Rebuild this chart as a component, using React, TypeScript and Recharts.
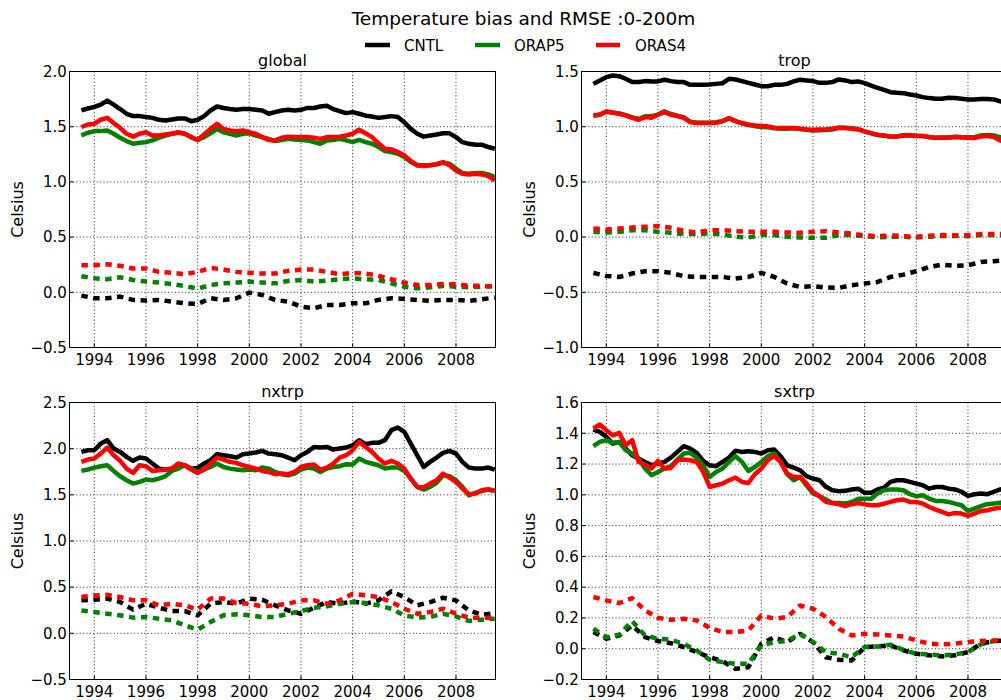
import React from 'react';
import { LineChart, Line, XAxis, YAxis, CartesianGrid } from 'recharts';

// ---- time axes -----------------------------------------------------------
const QUARTERS = [
  1993.5, 1993.75,
  1994, 1994.25, 1994.5, 1994.75, 1995, 1995.25, 1995.5, 1995.75,
  1996, 1996.25, 1996.5, 1996.75, 1997, 1997.25, 1997.5, 1997.75,
  1998, 1998.25, 1998.5, 1998.75, 1999, 1999.25, 1999.5, 1999.75,
  2000, 2000.25, 2000.5, 2000.75, 2001, 2001.25, 2001.5, 2001.75,
  2002, 2002.25, 2002.5, 2002.75, 2003, 2003.25, 2003.5, 2003.75,
  2004, 2004.25, 2004.5, 2004.75, 2005, 2005.25, 2005.5, 2005.75,
  2006, 2006.25, 2006.5, 2006.75, 2007, 2007.25, 2007.5, 2007.75,
  2008, 2008.25, 2008.5, 2008.75, 2009, 2009.25, 2009.5,
];
const HALF_YEARS = [
  1993.5, 1994, 1994.5, 1995, 1995.5, 1996, 1996.5, 1997, 1997.5, 1998, 1998.5,
  1999, 1999.5, 2000, 2000.5, 2001, 2001.5, 2002, 2002.5, 2003, 2003.5,
  2004, 2004.5, 2005, 2005.5, 2006, 2006.5, 2007, 2007.5, 2008, 2008.5, 2009, 2009.5,
];
const YEAR_TICKS = [1994, 1996, 1998, 2000, 2002, 2004, 2006, 2008];
const X_DOMAIN: [number, number] = [1993.04, 2009.53];

// ---- experiments -----------------------------------------------------------
const EXPERIMENTS = ['CNTL', 'ORAP5', 'ORAS4'];
const COLORS = ['#000000', '#008000', '#ff0000'];

// ---- global ---------------------------------------------------------------
const GLOBAL_RMSE_CNTL = [
  1.647, 1.665,
  1.68, 1.70, 1.737, 1.70, 1.66, 1.617, 1.596, 1.596,
  1.587, 1.58, 1.563, 1.557, 1.566, 1.575, 1.575, 1.55,
  1.563, 1.596, 1.647, 1.683, 1.67, 1.66, 1.653, 1.66,
  1.66, 1.653, 1.647, 1.617, 1.632, 1.647, 1.653, 1.647,
  1.653, 1.67, 1.67, 1.683, 1.69, 1.66, 1.64, 1.623,
  1.632, 1.617, 1.60, 1.593, 1.58, 1.587, 1.596, 1.587,
  1.54, 1.48, 1.436, 1.41, 1.42, 1.43, 1.44, 1.44,
  1.406, 1.36, 1.345, 1.337, 1.337, 1.316, 1.30,
];
const GLOBAL_RMSE_ORAP5 = [
  1.421, 1.445,
  1.46, 1.46, 1.466, 1.436, 1.40, 1.37, 1.346, 1.355,
  1.36, 1.376, 1.40, 1.42, 1.436, 1.445, 1.436, 1.406,
  1.38, 1.406, 1.44, 1.48, 1.45, 1.436, 1.42, 1.436,
  1.44, 1.42, 1.406, 1.39, 1.37, 1.38, 1.39, 1.385,
  1.38, 1.376, 1.36, 1.346, 1.376, 1.38, 1.39, 1.376,
  1.36, 1.38, 1.36, 1.346, 1.316, 1.28, 1.27, 1.255,
  1.225, 1.18, 1.15, 1.15, 1.15, 1.16, 1.173, 1.165,
  1.12, 1.08, 1.074, 1.08, 1.08, 1.068, 1.044,
];
const GLOBAL_RMSE_ORAS4 = [
  1.497, 1.52,
  1.527, 1.563, 1.58, 1.533, 1.49, 1.436, 1.41, 1.436,
  1.45, 1.42, 1.42, 1.43, 1.436, 1.45, 1.436, 1.406,
  1.38, 1.43, 1.48, 1.527, 1.48, 1.466, 1.46, 1.466,
  1.45, 1.436, 1.406, 1.38, 1.376, 1.40, 1.41, 1.406,
  1.406, 1.406, 1.40, 1.39, 1.406, 1.406, 1.41, 1.42,
  1.436, 1.473, 1.44, 1.406, 1.35, 1.30, 1.294, 1.27,
  1.24, 1.19, 1.15, 1.144, 1.15, 1.16, 1.18, 1.15,
  1.104, 1.074, 1.068, 1.074, 1.068, 1.053, 1.014,
];
const GLOBAL_BIAS_CNTL = [
  -0.03, -0.054, -0.054, -0.039, -0.069, -0.075, -0.069, -0.084, -0.099, -0.105, -0.054,
  -0.069, -0.054, -0.003, -0.024, -0.069, -0.084, -0.13, -0.145, -0.115, -0.115,
  -0.1, -0.1, -0.069, -0.054, -0.06, -0.069, -0.078, -0.069, -0.069, -0.078, -0.063, -0.048,
];
const GLOBAL_BIAS_ORAP5 = [
  0.146, 0.127, 0.118, 0.136, 0.112, 0.097, 0.088, 0.075, 0.057, 0.033, 0.066,
  0.081, 0.088, 0.097, 0.088, 0.081, 0.103, 0.112, 0.097, 0.106, 0.118,
  0.127, 0.118, 0.112, 0.081, 0.051, 0.036, 0.045, 0.057, 0.051, 0.045, 0.051, 0.057,
];
const GLOBAL_BIAS_ORAS4 = [
  0.245, 0.245, 0.254, 0.24, 0.215, 0.215, 0.185, 0.176, 0.164, 0.185, 0.221,
  0.206, 0.185, 0.176, 0.17, 0.17, 0.194, 0.206, 0.206, 0.185, 0.164,
  0.176, 0.17, 0.149, 0.118, 0.088, 0.066, 0.066, 0.075, 0.072, 0.06, 0.06, 0.051,
];

// ---- trop ------------------------------------------------------------------
const TROP_RMSE_CNTL = [
  1.388, 1.419,
  1.449, 1.464, 1.458, 1.434, 1.404, 1.404, 1.413, 1.41,
  1.41, 1.425, 1.413, 1.404, 1.404, 1.379, 1.379, 1.379,
  1.382, 1.388, 1.394, 1.434, 1.428, 1.413, 1.397, 1.382,
  1.367, 1.367, 1.379, 1.379, 1.388, 1.41, 1.425, 1.419,
  1.413, 1.397, 1.397, 1.404, 1.428, 1.419, 1.404, 1.41,
  1.394, 1.373, 1.352, 1.334, 1.313, 1.307, 1.304, 1.292,
  1.283, 1.268, 1.259, 1.253, 1.253, 1.262, 1.259, 1.253,
  1.247, 1.247, 1.25, 1.25, 1.247, 1.229, 1.22,
];
const TROP_RMSE_ORAP5 = [
  1.10, 1.11,
  1.135, 1.13, 1.12, 1.105, 1.085, 1.07, 1.095, 1.095,
  1.11, 1.14, 1.115, 1.10, 1.085, 1.045, 1.035, 1.035,
  1.035, 1.04, 1.05, 1.075, 1.05, 1.03, 1.015, 1.005,
  0.998, 0.995, 0.985, 0.982, 0.982, 0.985, 0.978, 0.972,
  0.965, 0.968, 0.97, 0.975, 0.99, 0.99, 0.985, 0.978,
  0.958, 0.94, 0.925, 0.918, 0.91, 0.912, 0.922, 0.924,
  0.918, 0.915, 0.905, 0.9, 0.902, 0.903, 0.91, 0.906,
  0.905, 0.905, 0.92, 0.925, 0.92, 0.905, 0.885,
];
const TROP_RMSE_ORAS4 = [
  1.102, 1.108,
  1.138, 1.126, 1.117, 1.102, 1.081, 1.063, 1.087, 1.081,
  1.108, 1.132, 1.108, 1.096, 1.081, 1.042, 1.033, 1.033,
  1.033, 1.036, 1.051, 1.078, 1.051, 1.033, 1.021, 1.012,
  1.006, 1.003, 0.991, 0.988, 0.988, 0.988, 0.982, 0.975,
  0.972, 0.975, 0.975, 0.982, 0.991, 0.988, 0.982, 0.975,
  0.957, 0.942, 0.927, 0.921, 0.912, 0.912, 0.921, 0.921,
  0.915, 0.915, 0.906, 0.9, 0.9, 0.9, 0.906, 0.903,
  0.9, 0.897, 0.912, 0.918, 0.906, 0.876, 0.852,
];
const TROP_BIAS_CNTL = [
  -0.324, -0.352, -0.361, -0.33, -0.309, -0.309, -0.324, -0.355, -0.361, -0.361, -0.361,
  -0.376, -0.361, -0.324, -0.361, -0.421, -0.451, -0.445, -0.457, -0.46, -0.436,
  -0.421, -0.406, -0.361, -0.34, -0.309, -0.27, -0.249, -0.261, -0.255, -0.225, -0.219, -0.21,
];
const TROP_BIAS_ORAP5 = [
  0.048, 0.042, 0.048, 0.063, 0.063, 0.048, 0.039, 0.027, 0.027, 0.033, 0.024,
  0.003, -0.003, 0.018, 0.018, 0.003, -0.003, -0.006, -0.006, 0.018, 0.018,
  0.009, -0.003, 0.003, 0.003, -0.003, 0.003, 0.009, 0.009, 0.009, 0.018, 0.018, 0.018,
];
const TROP_BIAS_ORAS4 = [
  0.078, 0.069, 0.078, 0.087, 0.093, 0.1, 0.084, 0.057, 0.042, 0.063, 0.063,
  0.054, 0.048, 0.048, 0.048, 0.042, 0.039, 0.048, 0.054, 0.042, 0.033,
  0.015, 0.009, 0.015, 0.009, 0.003, 0.012, 0.018, 0.015, 0.018, 0.027, 0.027, 0.027,
];

// ---- nxtrp -----------------------------------------------------------------
const NXTRP_RMSE_CNTL = [
  1.965, 1.983,
  1.983, 2.055, 2.092, 2.001, 1.965, 1.911, 1.868, 1.904,
  1.893, 1.839, 1.784, 1.774, 1.784, 1.802, 1.82, 1.784,
  1.792, 1.839, 1.875, 1.94, 1.929, 1.918, 1.904, 1.94,
  1.947, 1.958, 1.976, 1.947, 1.94, 1.929, 1.904, 1.875,
  1.929, 1.965, 2.019, 2.012, 2.019, 1.99, 2.001, 2.012,
  2.037, 2.092, 2.048, 2.063, 2.063, 2.092, 2.2, 2.229,
  2.182, 2.055, 1.929, 1.802, 1.857, 1.904, 1.954, 1.976,
  1.947, 1.857, 1.795, 1.784, 1.784, 1.795, 1.774,
];
const NXTRP_RMSE_ORAP5 = [
  1.759, 1.774,
  1.795, 1.81, 1.82, 1.759, 1.701, 1.658, 1.622, 1.64,
  1.665, 1.658, 1.676, 1.701, 1.759, 1.784, 1.82, 1.784,
  1.748, 1.774, 1.802, 1.839, 1.802, 1.784, 1.774, 1.766,
  1.774, 1.766, 1.795, 1.784, 1.748, 1.723, 1.712, 1.73,
  1.774, 1.795, 1.784, 1.748, 1.784, 1.802, 1.81, 1.831,
  1.828, 1.893, 1.857, 1.839, 1.82, 1.784, 1.795, 1.795,
  1.759, 1.676, 1.586, 1.557, 1.586, 1.629, 1.712, 1.701,
  1.658, 1.586, 1.495, 1.521, 1.542, 1.557, 1.542,
];
const NXTRP_RMSE_ORAS4 = [
  1.857, 1.882,
  1.893, 1.947, 2.012, 1.929, 1.868, 1.784, 1.737, 1.82,
  1.81, 1.759, 1.766, 1.774, 1.784, 1.839, 1.82, 1.774,
  1.737, 1.774, 1.839, 1.904, 1.882, 1.857, 1.846, 1.82,
  1.802, 1.784, 1.759, 1.748, 1.723, 1.73, 1.723, 1.748,
  1.802, 1.82, 1.828, 1.774, 1.795, 1.839, 1.904, 1.929,
  1.983, 2.074, 2.019, 1.965, 1.893, 1.839, 1.868, 1.839,
  1.784, 1.676, 1.586, 1.579, 1.622, 1.658, 1.73, 1.687,
  1.64, 1.568, 1.506, 1.513, 1.55, 1.561, 1.542,
];
const NXTRP_BIAS_CNTL = [
  0.357, 0.364, 0.376, 0.339, 0.257, 0.321, 0.277, 0.241, 0.241, 0.195, 0.321,
  0.339, 0.321, 0.376, 0.364, 0.303, 0.248, 0.212, 0.277, 0.339, 0.321,
  0.346, 0.321, 0.357, 0.455, 0.393, 0.303, 0.339, 0.386, 0.357, 0.248, 0.201, 0.219,
];
const NXTRP_BIAS_ORAP5 = [
  0.248, 0.23, 0.212, 0.195, 0.17, 0.177, 0.159, 0.141, 0.087, 0.04, 0.123,
  0.195, 0.206, 0.195, 0.177, 0.177, 0.212, 0.241, 0.277, 0.292, 0.321,
  0.339, 0.328, 0.303, 0.266, 0.195, 0.17, 0.177, 0.212, 0.184, 0.134, 0.148, 0.159,
];
const NXTRP_BIAS_ORAS4 = [
  0.393, 0.411, 0.417, 0.393, 0.357, 0.357, 0.303, 0.321, 0.303, 0.257, 0.376,
  0.376, 0.328, 0.321, 0.292, 0.303, 0.321, 0.357, 0.357, 0.321, 0.357,
  0.429, 0.411, 0.393, 0.339, 0.266, 0.212, 0.23, 0.266, 0.212, 0.17, 0.17, 0.17,
];

// ---- sxtrp -----------------------------------------------------------------
const SXTRP_RMSE_CNTL = [
  1.424, 1.409,
  1.377, 1.333, 1.344, 1.301, 1.257, 1.236, 1.214, 1.192,
  1.203, 1.214, 1.242, 1.279, 1.316, 1.301, 1.273, 1.22,
  1.192, 1.186, 1.214, 1.242, 1.286, 1.279, 1.283, 1.279,
  1.268, 1.29, 1.294, 1.251, 1.192, 1.177, 1.16, 1.121,
  1.106, 1.095, 1.052, 1.03, 1.024, 1.026, 1.035, 1.04,
  1.013, 1.013, 1.035, 1.047, 1.084, 1.095, 1.095, 1.084,
  1.073, 1.062, 1.04, 1.051, 1.051, 1.04, 1.035, 1.02,
  0.993, 1.004, 1.009, 1.004, 1.02, 1.035, 1.04,
];
const SXTRP_RMSE_ORAP5 = [
  1.316, 1.344,
  1.355, 1.338, 1.344, 1.29, 1.268, 1.236, 1.171, 1.127,
  1.149, 1.171, 1.186, 1.229, 1.268, 1.273, 1.242, 1.192,
  1.116, 1.149, 1.171, 1.214, 1.251, 1.214, 1.155, 1.181,
  1.214, 1.251, 1.268, 1.214, 1.134, 1.095, 1.116, 1.062,
  1.009, 0.991, 0.969, 0.947, 0.947, 0.943, 0.954, 0.975,
  0.975, 0.975, 1.009, 1.03, 1.035, 1.035, 1.03, 1.004,
  0.991, 0.997, 0.975, 0.96, 0.96, 0.954, 0.943, 0.932,
  0.895, 0.91, 0.926, 0.939, 0.943, 0.949, 0.952,
];
const SXTRP_RMSE_ORAS4 = [
  1.431, 1.457,
  1.42, 1.387, 1.403, 1.322, 1.355, 1.214, 1.197, 1.171,
  1.22, 1.171, 1.175, 1.225, 1.229, 1.225, 1.214, 1.149,
  1.051, 1.062, 1.073, 1.095, 1.112, 1.084, 1.077, 1.134,
  1.171, 1.225, 1.251, 1.214, 1.138, 1.116, 1.116, 1.073,
  1.019, 0.991, 0.954, 0.947, 0.939, 0.926, 0.939, 0.947,
  0.939, 0.932, 0.932, 0.943, 0.954, 0.965, 0.969, 0.954,
  0.954, 0.943, 0.921, 0.904, 0.889, 0.873, 0.882, 0.878,
  0.863, 0.878, 0.895, 0.9, 0.91, 0.917, 0.91,
];
const SXTRP_BIAS_CNTL = [
  0.108, 0.065, 0.086, 0.151, 0.075, 0.05, 0.036, 0.011, -0.022, -0.055, -0.081,
  -0.131, -0.12, 0.032, 0.075, 0.043, 0.097, 0.043, -0.055, -0.072, -0.076,
  0.011, 0.015, 0.022, -0.011, -0.033, -0.043, -0.05, -0.043, -0.022, 0.032, 0.05, 0.054,
];
const SXTRP_BIAS_ORAP5 = [
  0.13, 0.075, 0.091, 0.18, 0.086, 0.065, 0.058, 0.032, -0.011, -0.072, -0.087,
  -0.098, -0.098, 0.022, 0.043, 0.05, 0.097, 0.043, -0.022, -0.033, -0.055,
  0.011, 0.015, 0.026, -0.007, -0.033, -0.037, -0.043, -0.037, -0.022, 0.028, 0.05, 0.05,
];
const SXTRP_BIAS_ORAS4 = [
  0.336, 0.314, 0.297, 0.329, 0.249, 0.201, 0.188, 0.195, 0.184, 0.136, 0.108,
  0.108, 0.119, 0.216, 0.195, 0.206, 0.281, 0.26, 0.206, 0.13, 0.086,
  0.097, 0.093, 0.086, 0.08, 0.054, 0.033, 0.028, 0.033, 0.043, 0.05, 0.054, 0.05,
];

// ---- y axes ------------------------------------------------------------------
const GLOBAL_TICKS = [-0.5, 0, 0.5, 1.0, 1.5, 2.0];
const TROP_TICKS = [-1.0, -0.5, 0, 0.5, 1.0, 1.5];
const NXTRP_TICKS = [-0.5, 0, 0.5, 1.0, 1.5, 2.0, 2.5];
const SXTRP_TICKS = [-0.2, 0, 0.2, 0.4, 0.6, 0.8, 1.0, 1.2, 1.4, 1.6];

type PanelSpec = {
  title: string;
  ticks: number[];
  rmse: number[][];
  bias: number[][];
  px: number; // left pixel column of the frame
  py: number; // top pixel row of the frame
  h: number;
};

const PLOT_W = 426;

const PANELS: PanelSpec[] = [
  {
    title: 'global', ticks: GLOBAL_TICKS,
    rmse: [GLOBAL_RMSE_CNTL, GLOBAL_RMSE_ORAP5, GLOBAL_RMSE_ORAS4],
    bias: [GLOBAL_BIAS_CNTL, GLOBAL_BIAS_ORAP5, GLOBAL_BIAS_ORAS4],
    px: 69, py: 71, h: 276,
  },
  {
    title: 'trop', ticks: TROP_TICKS,
    rmse: [TROP_RMSE_CNTL, TROP_RMSE_ORAP5, TROP_RMSE_ORAS4],
    bias: [TROP_BIAS_CNTL, TROP_BIAS_ORAP5, TROP_BIAS_ORAS4],
    px: 581, py: 71, h: 276,
  },
  {
    title: 'nxtrp', ticks: NXTRP_TICKS,
    rmse: [NXTRP_RMSE_CNTL, NXTRP_RMSE_ORAP5, NXTRP_RMSE_ORAS4],
    bias: [NXTRP_BIAS_CNTL, NXTRP_BIAS_ORAP5, NXTRP_BIAS_ORAS4],
    px: 69, py: 402, h: 277,
  },
  {
    title: 'sxtrp', ticks: SXTRP_TICKS,
    rmse: [SXTRP_RMSE_CNTL, SXTRP_RMSE_ORAP5, SXTRP_RMSE_ORAS4],
    bias: [SXTRP_BIAS_CNTL, SXTRP_BIAS_ORAP5, SXTRP_BIAS_ORAS4],
    px: 581, py: 402, h: 277,
  },
];

const FONT = '"DejaVu Sans", "Liberation Sans", sans-serif';
const toPoints = (xs: number[], ys: number[]) => xs.map((t, i) => ({ t, v: ys[i] }));
const fmtY = (v: number) => v.toFixed(1).replace('-', '\u2212');
const fmtX = (v: number) => String(Math.round(v));

// space reserved by each axis around the frame
const LEFT_W = 80.5;
const RIGHT_W = 19.5;
const TOP_H = 30.5;
const BOTTOM_H = 39.5;

function Panel({ spec }: { spec: PanelSpec }) {
  const yDomain: [number, number] = [spec.ticks[0], spec.ticks[spec.ticks.length - 1]];
  const tickStyle = { fill: '#000', fontSize: 15, fontFamily: FONT };
  return (
    <div style={{ position: 'absolute', left: spec.px - 80, top: spec.py - 30 }}>
      <LineChart
        width={PLOT_W + LEFT_W + RIGHT_W}
        height={spec.h + TOP_H + BOTTOM_H}
        margin={{ top: 0, right: 0, bottom: 0, left: 0 }}
      >
        <CartesianGrid stroke="#222" strokeWidth={1} strokeDasharray="1 2.4" />
        <XAxis
          dataKey="t" type="number" domain={X_DOMAIN} ticks={YEAR_TICKS} allowDataOverflow
          height={BOTTOM_H} tickSize={-4} tickMargin={10.4} interval={0} stroke="#000"
          tick={tickStyle} tickFormatter={fmtX}
        />
        <YAxis
          type="number" domain={yDomain} ticks={spec.ticks} allowDataOverflow
          width={LEFT_W} tickSize={-4} tickMargin={6.6} interval={0} stroke="#000"
          tick={tickStyle} tickFormatter={fmtY}
        />
        <XAxis
          xAxisId="top" orientation="top" dataKey="t" type="number" domain={X_DOMAIN}
          ticks={YEAR_TICKS} allowDataOverflow height={TOP_H} tickSize={-4} interval={0}
          stroke="#000" tick={false}
        />
        <YAxis
          yAxisId="right" orientation="right" type="number" domain={yDomain}
          ticks={spec.ticks} allowDataOverflow width={RIGHT_W} tickSize={-4} interval={0}
          stroke="#000" tick={false}
        />
        {EXPERIMENTS.map((name, i) => (
          <Line
            key={`rmse-${name}`}
            name={`${name} rmse`}
            data={toPoints(QUARTERS, spec.rmse[i])}
            dataKey="v"
            stroke={COLORS[i]}
            strokeWidth={4.5}
            strokeLinejoin="round"
            dot={false}
            activeDot={false}
            isAnimationActive={false}
          />
        ))}
        {EXPERIMENTS.map((name, i) => (
          <Line
            key={`bias-${name}`}
            name={`${name} bias`}
            data={toPoints(HALF_YEARS, spec.bias[i])}
            dataKey="v"
            stroke={COLORS[i]}
            strokeWidth={4.5}
            strokeDasharray="6.5 5.5"
            strokeLinejoin="round"
            dot={false}
            activeDot={false}
            isAnimationActive={false}
          />
        ))}
      </LineChart>
    </div>
  );
}

// legend handles and captions
const LEGEND = [
  { name: 'CNTL', x1: 365, x2: 390, tx: 404 },
  { name: 'ORAP5', x1: 475, x2: 500, tx: 514 },
  { name: 'ORAS4', x1: 596, x2: 620, tx: 635 },
];

export default function App() {
  return (
    <div
      style={{
        position: 'fixed', left: 0, top: 0, width: 1001, height: 700,
        overflow: 'hidden', background: '#fff', fontFamily: FONT,
      }}
    >
      {PANELS.map((p) => (
        <Panel key={p.title} spec={p} />
      ))}
      <svg
        width={1001}
        height={700}
        style={{ position: 'absolute', left: 0, top: 0, pointerEvents: 'none' }}
        fontFamily={FONT}
      >
        <text x={523.5} y={25} fontSize={18.5} textAnchor="middle" fill="#000">
          Temperature bias and RMSE :0-200m
        </text>
        {LEGEND.map((l, i) => (
          <g key={l.name}>
            <line x1={l.x1} x2={l.x2} y1={45} y2={45} stroke={COLORS[i]} strokeWidth={4.5} />
            <text x={l.tx} y={50.7} fontSize={15} fill="#000">{l.name}</text>
          </g>
        ))}
        {PANELS.map((p) => (
          <g key={`lbl-${p.title}`}>
            <text
              x={p.px + PLOT_W / 2 + 0.5}
              y={p.py - 5.3}
              fontSize={16}
              textAnchor="middle"
              fill="#000"
            >
              {p.title}
            </text>
            <text
              x={0}
              y={0}
              fontSize={16}
              textAnchor="middle"
              fill="#000"
              transform={`translate(${p.px - 45.7} ${p.py + p.h / 2 + 0.5}) rotate(-90)`}
            >
              Celsius
            </text>
          </g>
        ))}
      </svg>
    </div>
  );
}
